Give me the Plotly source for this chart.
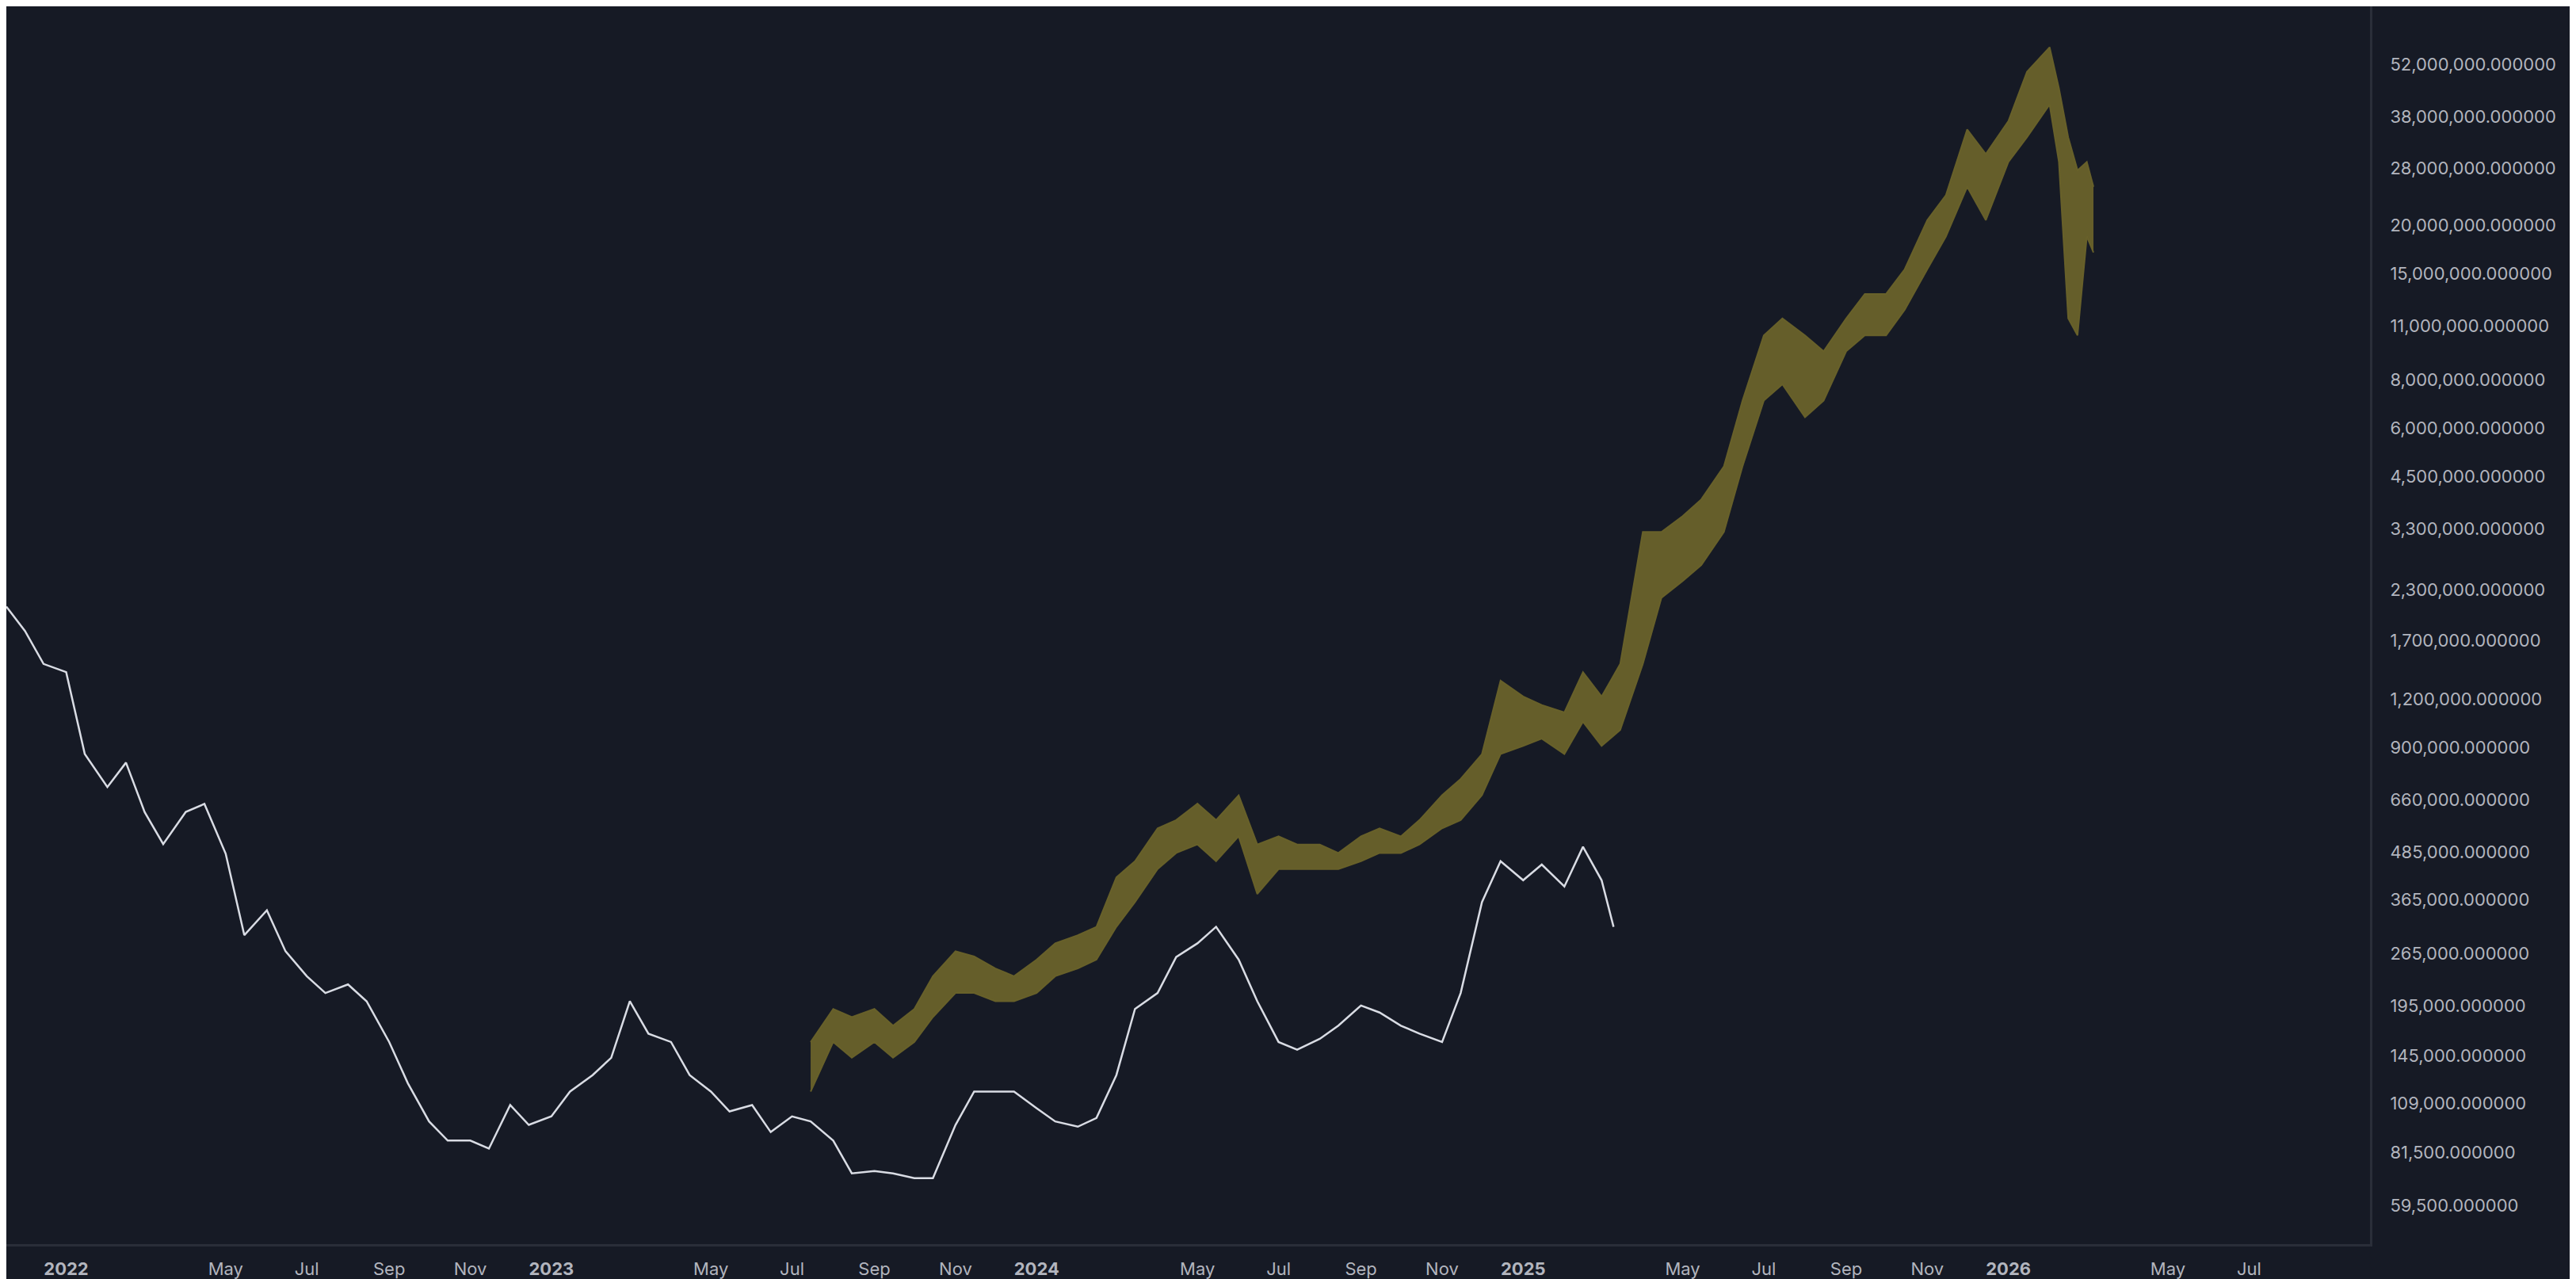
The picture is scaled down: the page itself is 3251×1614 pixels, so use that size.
import plotly.graph_objects as go

# White series (semi-monthly closes)
w_dates = ["2021-11-17","2021-12-01","2021-12-15","2022-01-01","2022-01-15","2022-02-01","2022-02-15","2022-03-01","2022-03-15","2022-04-01","2022-04-15","2022-05-01","2022-05-15","2022-06-01","2022-06-15","2022-07-01","2022-07-15","2022-08-01","2022-08-15","2022-09-01","2022-09-15","2022-10-01","2022-10-15","2022-11-01","2022-11-15","2022-12-01","2022-12-15","2023-01-01","2023-01-15","2023-02-01","2023-02-15","2023-03-01","2023-03-15","2023-04-01","2023-04-15","2023-05-01","2023-05-15","2023-06-01","2023-06-15","2023-07-01","2023-07-15","2023-08-01","2023-08-15","2023-09-01","2023-09-15","2023-10-01","2023-10-15","2023-11-01","2023-11-15","2023-12-01","2023-12-15","2024-01-01","2024-01-15","2024-02-01","2024-02-15","2024-03-01","2024-03-15","2024-04-01","2024-04-15","2024-05-01","2024-05-15","2024-06-01","2024-06-15","2024-07-01","2024-07-15","2024-08-01","2024-08-15","2024-09-01","2024-09-15","2024-10-01","2024-10-15","2024-11-01","2024-11-15","2024-12-01","2024-12-15","2025-01-01","2025-01-15","2025-02-01","2025-02-15","2025-03-01","2025-03-10"]
w_vals = [2080000,1800000,1480000,1410000,867000,713000,824000,615000,508000,615000,645000,480000,296000,343000,269000,232000,210000,221000,200000,157000,123000,98000,87500,87500,83400,108000,96000,101000,117000,129000,143000,200000,165000,157000,129000,117000,104000,108000,92000,101000,98000,87500,72000,73000,72000,70000,70000,96000,117000,117000,117000,106000,98000,95000,100000,129000,191000,210000,260000,282000,311000,256000,200000,157000,150000,160000,173000,195000,187000,173000,165000,157000,210000,360000,459000,410000,450000,395000,500000,410000,311000]

# Yellow series (semi-monthly low / high)
y_dates = ["2023-07-15","2023-08-01","2023-08-15","2023-09-01","2023-09-15","2023-10-01","2023-10-15","2023-11-01","2023-11-15","2023-12-01","2023-12-15","2024-01-01","2024-01-15","2024-02-01","2024-02-15","2024-03-01","2024-03-15","2024-04-01","2024-04-15","2024-05-01","2024-05-15","2024-06-01","2024-06-15","2024-07-01","2024-07-15","2024-08-01","2024-08-15","2024-09-01","2024-09-15","2024-10-01","2024-10-15","2024-11-01","2024-11-15","2024-12-01","2024-12-15","2025-01-01","2025-01-15","2025-02-01","2025-02-15","2025-03-01","2025-03-15","2025-04-01","2025-04-15","2025-05-01","2025-05-15","2025-06-01","2025-06-15","2025-07-01","2025-07-15","2025-08-01","2025-08-15","2025-09-01","2025-09-15","2025-10-01","2025-10-15","2025-11-01","2025-11-15","2025-12-01","2025-12-15","2026-01-01","2026-01-15","2026-02-01","2026-02-08","2026-02-15","2026-02-22","2026-03-01","2026-03-06"]
y_low = [117000,157000,143000,157000,143000,157000,182000,210000,210000,200000,200000,210000,232000,243000,256000,311000,360000,438000,482000,507000,459000,532000,378000,438000,438000,438000,438000,459000,482000,482000,507000,558000,586000,679000,867000,910000,950000,867000,1050000,910000,1000000,1480000,2190000,2420000,2660000,3240000,4780000,7060000,7780000,6400000,7060000,9460000,10400000,10400000,12100000,15400000,18700000,25100000,20600000,29100000,33700000,40900000,29100000,11500000,10400000,18700000,17000000]
y_high = [157000,191000,182000,191000,173000,191000,232000,269000,261000,243000,232000,256000,282000,296000,311000,417000,459000,558000,586000,646000,586000,679000,507000,532000,507000,507000,482000,532000,558000,532000,586000,679000,748000,867000,1340000,1220000,1160000,1110000,1410000,1220000,1480000,3240000,3240000,3560000,3930000,4780000,7060000,10400000,11500000,10400000,9460000,11500000,13300000,13300000,15400000,20600000,23900000,35300000,30500000,37100000,49700000,57500000,45100000,33700000,27700000,29100000,25100000]

ytick_vals = [72e6,52e6,38e6,28e6,20e6,15e6,11e6,8e6,6e6,4.5e6,3.3e6,2.3e6,1.7e6,1.2e6,9e5,6.6e5,4.85e5,3.65e5,2.65e5,1.95e5,1.45e5,1.09e5,8.15e4,5.95e4]
xtick_dates = ["2022-01-01","2022-05-01","2022-07-01","2022-09-01","2022-11-01","2023-01-01","2023-05-01","2023-07-01","2023-09-01","2023-11-01","2024-01-01","2024-05-01","2024-07-01","2024-09-01","2024-11-01","2025-01-01","2025-05-01","2025-07-01","2025-09-01","2025-11-01","2026-01-01","2026-05-01","2026-07-01"]
xtick_text = ["<b>2022</b>","May","Jul","Sep","Nov","<b>2023</b>","May","Jul","Sep","Nov","<b>2024</b>","May","Jul","Sep","Nov","<b>2025</b>","May","Jul","Sep","Nov","<b>2026</b>","May","Jul"]

olive = "rgba(105,98,42,0.95)"
fig = go.Figure()
fig.add_trace(go.Scatter(x=y_dates, y=y_low, mode="lines", line=dict(color=olive, width=2), showlegend=False, hoverinfo="skip"))
fig.add_trace(go.Scatter(x=y_dates, y=y_high, mode="lines", line=dict(color=olive, width=2), fill="tonexty", fillcolor=olive, showlegend=False))
fig.add_trace(go.Scatter(x=w_dates, y=w_vals, mode="lines", line=dict(color="#d9dce4", width=2.5), showlegend=False))

fig.update_layout(
    width=3251, height=1614, paper_bgcolor="#161a25", plot_bgcolor="#161a25",
    margin=dict(l=0, r=268, t=0, b=52),
    font=dict(family="Inter, Roboto, sans-serif", color="#b2b5be", size=22),
    xaxis=dict(type="date", range=["2021-11-17","2026-09-30"], tickvals=xtick_dates, ticktext=xtick_text,
               showgrid=False, zeroline=False, showline=True, linecolor="#2a2e39", linewidth=3, ticks="", ticklabelstandoff=10),
    yaxis=dict(type="log", side="right", range=[4.675, 7.865], tickvals=ytick_vals, tickformat=",.6f",
               showgrid=False, zeroline=False, showline=True, linecolor="#2a2e39", linewidth=3, ticks="", ticklabelstandoff=18),
)
fig.write_html("out.html")
